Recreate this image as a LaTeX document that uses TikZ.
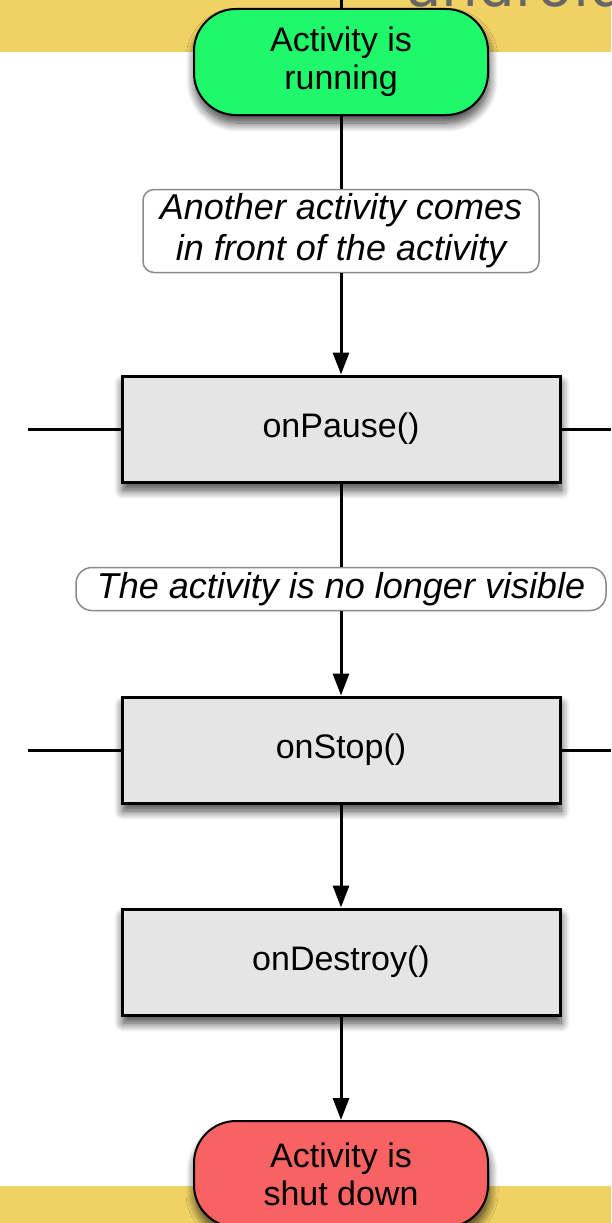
\documentclass[tikz,border=0pt]{standalone}
\usepackage{fontspec}
\setmainfont{Liberation Sans}
\newfontfamily\logofont{DejaVu Sans}
\usetikzlibrary{shadows.blur,arrows.meta}
\definecolor{bandyellow}{HTML}{F0D264}
\definecolor{startgreen}{HTML}{1EF86A}
\definecolor{endred}{HTML}{F96262}
\definecolor{procgray}{HTML}{E5E5E5}
\definecolor{labelgray}{HTML}{8A8A8A}
\definecolor{logogray}{HTML}{666666}
\tikzset{
  bigtext/.style={font=\fontsize{34}{38}\selectfont},
  boxshadow/.style={blur shadow={shadow xshift=1pt, shadow yshift=-8pt, shadow blur radius=9pt, shadow blur steps=12, shadow opacity=75}},
  terminal/.style={bigtext, draw=black, line width=2pt, rounded corners=42pt, minimum width=294pt, minimum height=106pt, inner sep=0pt, align=center, boxshadow},
  procbox/.style={bigtext, draw=black, line width=3pt, fill=procgray, minimum width=438pt, minimum height=106pt, inner sep=0pt, boxshadow},
  condlabel/.style={font=\fontsize{36}{41}\selectfont\itshape, draw=labelgray, line width=1.5pt, fill=white, inner sep=0pt, align=center},
  conn/.style={line width=3pt, draw=black},
  arr/.style={conn, -{Triangle[width=16pt,length=22pt]}},
}
\begin{document}
\begin{tikzpicture}[x=1pt,y=-1pt]
\useasboundingbox (0,0) rectangle (611,1223);
% bands
\fill[bandyellow] (0,0) rectangle (611,52);
\fill[bandyellow] (0,1186) rectangle (611,1223);
\node[anchor=base west, text=logogray, font=\logofont\fontsize{58}{58}\selectfont, inner sep=0pt] (logo) at (406,7) {android};
% nodes
\coordinate (topin) at (341,0);
\node[terminal, fill=startgreen] (start) at (341,62) {Activity is\\running};
\node[condlabel, rounded corners=11pt, minimum width=396pt, minimum height=83pt] (lab1) at (341,231) {Another activity comes\\in front of the activity};
\node[procbox] (pause) at (341,429) {onPause()};
\node[condlabel, rounded corners=16pt, minimum width=530pt, minimum height=43pt] (lab2) at (341,589) {The activity is no longer visible};
\node[procbox] (stop) at (341,750) {onStop()};
\node[procbox] (destroy) at (341,962) {onDestroy()};
\node[terminal, fill=endred] (end) at (341,1174) {Activity is\\shut down};
\coordinate (pauseL) at (28,429);
\coordinate (pauseR) at (611,429);
\coordinate (stopL) at (28,750);
\coordinate (stopR) at (611,750);
% connectors
\draw[conn] (topin) -- (start.north);
\draw[conn] (start.south) -- (lab1.north);
\draw[arr] (lab1.south) -- (pause.north);
\draw[conn] (pause.south) -- (lab2.north);
\draw[arr] (lab2.south) -- (stop.north);
\draw[arr] (stop.south) -- (destroy.north);
\draw[arr] (destroy.south) -- (end.north);
\draw[conn] (pause.west) -- (pauseL);
\draw[conn] (pause.east) -- (pauseR);
\draw[conn] (stop.west) -- (stopL);
\draw[conn] (stop.east) -- (stopR);
\end{tikzpicture}
\end{document}
